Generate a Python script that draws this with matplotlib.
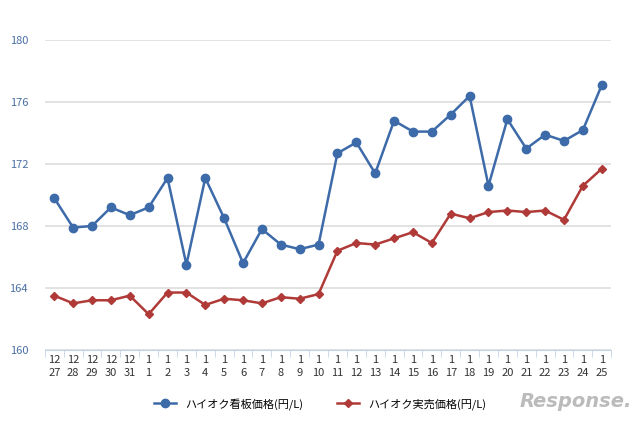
import matplotlib
matplotlib.use("Agg")
import matplotlib.pyplot as plt

months = [12]*5 + [1]*25
days = [27,28,29,30,31] + list(range(1,26))
labels = [f"{m}\n{d}" for m, d in zip(months, days)]
signboard = [169.8,167.9,168.0,169.2,168.7,169.2,171.1,165.5,171.1,168.5,165.6,167.8,166.8,166.5,166.8,
             172.7,173.4,171.4,174.8,174.1,174.1,175.2,176.4,170.6,174.9,173.0,173.9,173.5,174.2,177.1]
actual = [163.5,163.0,163.2,163.2,163.5,162.3,163.7,163.7,162.9,163.3,163.2,163.0,163.4,163.3,163.6,
          166.4,166.9,166.8,167.2,167.6,166.9,168.8,168.5,168.9,169.0,168.9,169.0,168.4,170.6,171.7]
names = ["ハイオク看板価格(円/L)", "ハイオク実売価格(円/L)"]
yticks = [160,164,168,172,176,180]

plt.rcParams["font.family"] = "Noto Sans CJK JP"
fig = plt.figure(figsize=(6.4,4.24), dpi=100)
ax = fig.add_axes([0.07, 0.175, 0.885, 0.73])
x = list(range(len(labels)))
ax.plot(x, signboard, color="#3d6aa8", marker="o", ms=6, lw=1.8, label=names[0])
ax.plot(x, actual, color="#b03a37", marker="D", ms=4, lw=1.8, label=names[1])
ax.set_xlim(-0.5, len(x)-0.5)
ax.set_ylim(160, 180)
ax.set_yticks(yticks)
ax.set_yticklabels([str(v) for v in yticks], color="#4a6fa5", fontsize=8)
ax.set_xticks(x)
ax.set_xticklabels(labels, fontsize=8, color="#333333", linespacing=1.3)
ax.set_xticks([i-0.5 for i in range(len(x)+1)], minor=True)
ax.tick_params(axis="x", which="major", length=0, pad=4)
ax.tick_params(axis="x", which="minor", length=5, color="#c5d3e6")
ax.tick_params(axis="y", length=0, pad=12)
ax.grid(axis="y", color="#dddddd", lw=1.2)
ax.set_axisbelow(True)
for s in ["top","right","left"]:
    ax.spines[s].set_visible(False)
ax.spines["bottom"].set_color("#c5d3e6")
fig.legend(loc="lower center", bbox_to_anchor=(0.5, 0.01), ncol=2, frameon=False, fontsize=8, columnspacing=3)
fig.text(0.9, 0.04, "Response.", fontsize=14, color="#bbbbbb", style="italic", ha="center", fontweight="bold", family="DejaVu Sans")
fig.savefig("out.png", dpi=100)
